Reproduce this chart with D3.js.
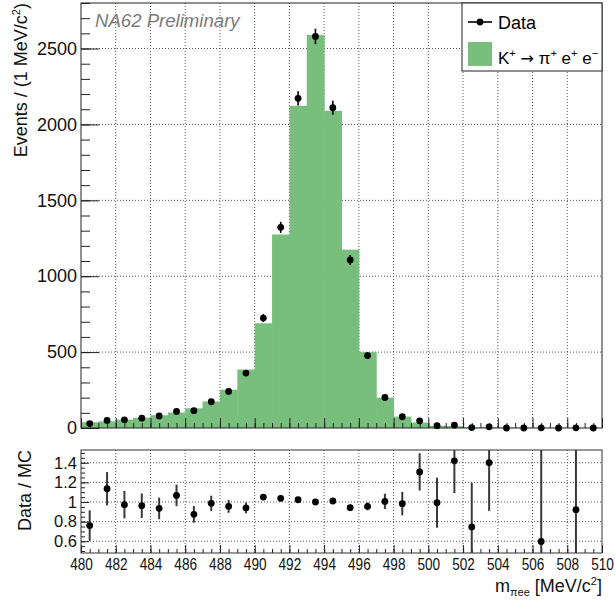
<!DOCTYPE html>
<html>
<head>
<meta charset="utf-8">
<script src="https://cdn.jsdelivr.net/npm/d3@7"></script>
<style>
body { margin: 0; background: #fff; }
text { font-family: "Liberation Sans", Arial, sans-serif; }
</style>
</head>
<body>
<svg width="616" height="601"></svg>
<script>
// bin centres of m_pi_ee, 1 MeV wide bins
var binCenters = [480.5, 481.5, 482.5, 483.5, 484.5, 485.5, 486.5, 487.5, 488.5, 489.5,
                  490.5, 491.5, 492.5, 493.5, 494.5, 495.5, 496.5, 497.5, 498.5, 499.5,
                  500.5, 501.5, 502.5, 503.5, 504.5, 505.5, 506.5, 507.5, 508.5, 509.5];
// simulated K+ -> pi+ e+ e- (green)
var mcCounts = [38, 44, 55, 68, 84, 102, 130, 175, 252, 385,
                690, 1275, 2123, 2590, 2090, 1175, 500, 200, 75, 36,
                15, 13.4, 4, 5.7, 3, 2.5, 1.7, 1.5, 1.1, 1];
// data points
var dataCounts = [29, 50, 54, 65, 79, 109, 114, 173, 241, 362,
                  724, 1322, 2172, 2580, 2110, 1107, 477, 201, 74, 47,
                  15, 19, 3, 8, 0, 0, 1, 0, 1, 0];
// data / MC ratio and its error (null = not drawn)
var ratio = [0.76, 1.135, 0.973, 0.962, 0.935, 1.067, 0.874, 0.986, 0.955, 0.94,
             1.05, 1.037, 1.023, 1.0, 1.01, 0.942, 0.955, 1.006, 0.983, 1.307,
             0.993, 1.42, 0.746, 1.40, null, null, 0.597, null, 0.922, null];
var ratioErr = [0.155, 0.17, 0.14, 0.125, 0.11, 0.11, 0.085, 0.078, 0.065, 0.055,
                0.03, 0.03, 0.025, 0.02, 0.025, 0.03, 0.04, 0.078, 0.12, 0.19,
                0.255, 0.33, 0.45, 0.49, null, null, 1.0, null, 0.92, null];

var yMajor = [0, 500, 1000, 1500, 2000, 2500];
var rMajor = [0.6, 0.8, 1, 1.2, 1.4];
var xMajor = [480, 482, 484, 486, 488, 490, 492, 494, 496, 498, 500, 502, 504, 506, 508, 510];

var green = "#78bf7e";
var svg = d3.select("svg");
svg.append("rect").attr("width", 616).attr("height", 601).attr("fill", "#fff");

var left = 81, right = 602;
var top1 = 3, bot1 = 428, top2 = 450, bot2 = 553;

var x = d3.scaleLinear().domain([480, 510]).range([left, right]);
var y = d3.scaleLinear().domain([0, 2800]).range([bot1, top1]);
var r = d3.scaleLinear().domain([0.48, 1.53]).range([bot2, top2]);

var xMinor = d3.range(480, 510.01, 0.5);
var yMinor = d3.range(0, 2801, 100);
var rMinor = d3.range(0.5, 1.51, 0.05);

// ---------- upper pad ----------
var up = svg.append("g");

// grid
up.selectAll(".gx").data(xMajor.slice(1, -1)).enter().append("line")
  .attr("x1", d => x(d)).attr("x2", d => x(d)).attr("y1", top1).attr("y2", bot1)
  .attr("stroke", "#555").attr("stroke-dasharray", "1,2");
up.selectAll(".gy").data(yMajor.slice(1)).enter().append("line")
  .attr("x1", left).attr("x2", right).attr("y1", d => y(d)).attr("y2", d => y(d))
  .attr("stroke", "#555").attr("stroke-dasharray", "1,2");

// MC histogram
up.selectAll(".bar").data(mcCounts).enter().append("rect")
  .attr("x", (d, i) => x(binCenters[i] - 0.5))
  .attr("width", (d, i) => x(binCenters[i] + 0.5) - x(binCenters[i] - 0.5) + 0.5)
  .attr("y", d => y(d))
  .attr("height", d => bot1 - y(d))
  .attr("fill", green);

// axes (ticks inside the frame)
var ax1 = up.append("g").attr("transform", "translate(" + left + ",0)")
  .call(d3.axisLeft(y).tickValues(yMajor).tickSize(-18).tickPadding(4).tickFormat(d3.format("d")));
up.append("g").attr("transform", "translate(" + left + ",0)")
  .call(d3.axisLeft(y).tickValues(yMinor).tickSize(-9).tickFormat(""));
up.append("g").attr("transform", "translate(0," + bot1 + ")")
  .call(d3.axisBottom(x).tickValues(xMajor).tickSize(-10).tickFormat(""));
up.append("g").attr("transform", "translate(0," + bot1 + ")")
  .call(d3.axisBottom(x).tickValues(xMinor).tickSize(-5).tickFormat(""));
up.selectAll(".domain").remove();
up.selectAll(".tick line").attr("stroke", "#222");
ax1.selectAll("text").attr("font-size", 18).attr("fill", "#111")
  .attr("font-family", "Liberation Sans, Arial, sans-serif");

up.append("rect").attr("x", left).attr("y", top1).attr("width", right - left).attr("height", bot1 - top1)
  .attr("fill", "none").attr("stroke", "#222");

// data error bars and points
up.selectAll(".err").data(binCenters.filter((c, i) => dataCounts[i] > 0)).enter().append("line")
  .attr("x1", d => x(d)).attr("x2", d => x(d))
  .attr("y1", function(d) { var n = dataCounts[binCenters.indexOf(d)]; return y(n + Math.sqrt(n)); })
  .attr("y2", function(d) { var n = dataCounts[binCenters.indexOf(d)]; return y(n - Math.sqrt(n)); })
  .attr("stroke", "#000").attr("stroke-width", 1.6);
up.selectAll(".pt").data(dataCounts).enter().append("circle")
  .attr("cx", (d, i) => x(binCenters[i])).attr("cy", d => y(d))
  .attr("r", 3.4).attr("fill", "#000");

up.append("text").attr("x", 95).attr("y", 26.5).attr("font-size", 18.6)
  .attr("font-style", "italic").attr("fill", "#7a7a7a").text("NA62 Preliminary");

// legend
var lg = up.append("g");
lg.append("rect").attr("x", 462).attr("y", top1).attr("width", right - 462).attr("height", 68)
  .attr("fill", "#fff").attr("stroke", "#222");
lg.append("line").attr("x1", 468).attr("x2", 492).attr("y1", 22).attr("y2", 22)
  .attr("stroke", "#000").attr("stroke-width", 1.6);
lg.append("circle").attr("cx", 480).attr("cy", 22).attr("r", 3.4).attr("fill", "#000");
lg.append("text").attr("x", 498).attr("y", 28.5).attr("font-size", 18).text("Data");
lg.append("rect").attr("x", 468).attr("y", 42).attr("width", 24).attr("height", 24).attr("fill", green);
var kt = lg.append("text").attr("x", 498).attr("y", 64).attr("font-size", 17);
kt.append("tspan").text("K");
kt.append("tspan").attr("font-size", 11).attr("dy", -7).text("+");
kt.append("tspan").attr("dy", 7).text(" ");
kt.append("tspan").attr("font-family", "DejaVu Sans").attr("font-size", 16).text("\u2192");
kt.append("tspan").text(" \u03c0");
kt.append("tspan").attr("font-size", 11).attr("dy", -7).text("+");
kt.append("tspan").attr("dy", 7).text(" e");
kt.append("tspan").attr("font-size", 11).attr("dy", -7).text("+");
kt.append("tspan").attr("dy", 7).text(" e");
kt.append("tspan").attr("font-size", 11).attr("dy", -7).text("\u2212");

// y title
var yt = svg.append("text").attr("transform", "translate(27," + top1 + ") rotate(-90)")
  .attr("text-anchor", "end").attr("font-size", 18).attr("fill", "#111");
yt.append("tspan").text("Events / (1 MeV/c");
yt.append("tspan").attr("font-size", 11).attr("dy", -7).text("2");
yt.append("tspan").attr("dy", 7).text(")");

// ---------- lower pad ----------
var lo = svg.append("g");
svg.append("clipPath").attr("id", "clipLo").append("rect")
  .attr("x", left).attr("y", top2).attr("width", right - left).attr("height", bot2 - top2);

lo.selectAll(".gx").data(xMajor.slice(1, -1)).enter().append("line")
  .attr("x1", d => x(d)).attr("x2", d => x(d)).attr("y1", top2).attr("y2", bot2)
  .attr("stroke", "#555").attr("stroke-dasharray", "1,2");
lo.selectAll(".gy").data(rMajor).enter().append("line")
  .attr("x1", left).attr("x2", right).attr("y1", d => r(d)).attr("y2", d => r(d))
  .attr("stroke", "#555").attr("stroke-dasharray", "1,2");

var ax2 = lo.append("g").attr("transform", "translate(" + left + ",0)")
  .call(d3.axisLeft(r).tickValues(rMajor).tickSize(-8).tickPadding(4).tickFormat(d3.format("~g")));
lo.append("g").attr("transform", "translate(" + left + ",0)")
  .call(d3.axisLeft(r).tickValues(rMinor).tickSize(-4).tickFormat(""));
var ax3 = lo.append("g").attr("transform", "translate(0," + bot2 + ")")
  .call(d3.axisBottom(x).tickValues(xMajor).tickSize(-8).tickPadding(5));
lo.append("g").attr("transform", "translate(0," + bot2 + ")")
  .call(d3.axisBottom(x).tickValues(xMinor).tickSize(-4).tickFormat(""));
lo.selectAll(".domain").remove();
lo.selectAll(".tick line").attr("stroke", "#222");
ax2.selectAll("text").attr("font-size", 16.5).attr("fill", "#111")
  .attr("font-family", "Liberation Sans, Arial, sans-serif");
ax3.selectAll("text").attr("font-size", 17).attr("fill", "#111")
  .attr("font-family", "Liberation Sans, Arial, sans-serif")
  .attr("transform", "scale(0.8,1)");

lo.append("rect").attr("x", left).attr("y", top2).attr("width", right - left).attr("height", bot2 - top2)
  .attr("fill", "none").attr("stroke", "#333");

var rg = lo.append("g").attr("clip-path", "url(#clipLo)");
rg.selectAll(".rerr").data(binCenters.filter((c, i) => ratio[i] !== null)).enter().append("line")
  .attr("x1", d => x(d)).attr("x2", d => x(d))
  .attr("y1", function(d) { var i = binCenters.indexOf(d); return r(ratio[i] + ratioErr[i]); })
  .attr("y2", function(d) { var i = binCenters.indexOf(d); return r(ratio[i] - ratioErr[i]); })
  .attr("stroke", "#3a3a3a").attr("stroke-width", 2);
rg.selectAll(".rpt").data(binCenters.filter((c, i) => ratio[i] !== null)).enter().append("circle")
  .attr("cx", d => x(d)).attr("cy", d => r(ratio[binCenters.indexOf(d)]))
  .attr("r", 3.4).attr("fill", "#000");

var rt = svg.append("text").attr("transform", "translate(31," + top2 + ") rotate(-90)")
  .attr("text-anchor", "end").attr("font-size", 18).attr("fill", "#111").text("Data / MC");

// x title
var xt = svg.append("text").attr("x", right).attr("y", 591.5).attr("text-anchor", "end")
  .attr("font-size", 18).attr("fill", "#111");
xt.append("tspan").text("m");
xt.append("tspan").attr("font-size", 11).attr("dy", 4).text("\u03c0ee");
xt.append("tspan").attr("dy", -4).text(" [MeV/c");
xt.append("tspan").attr("font-size", 11).attr("dy", -7).text("2");
xt.append("tspan").attr("dy", 7).text("]");
</script>
</body>
</html>
